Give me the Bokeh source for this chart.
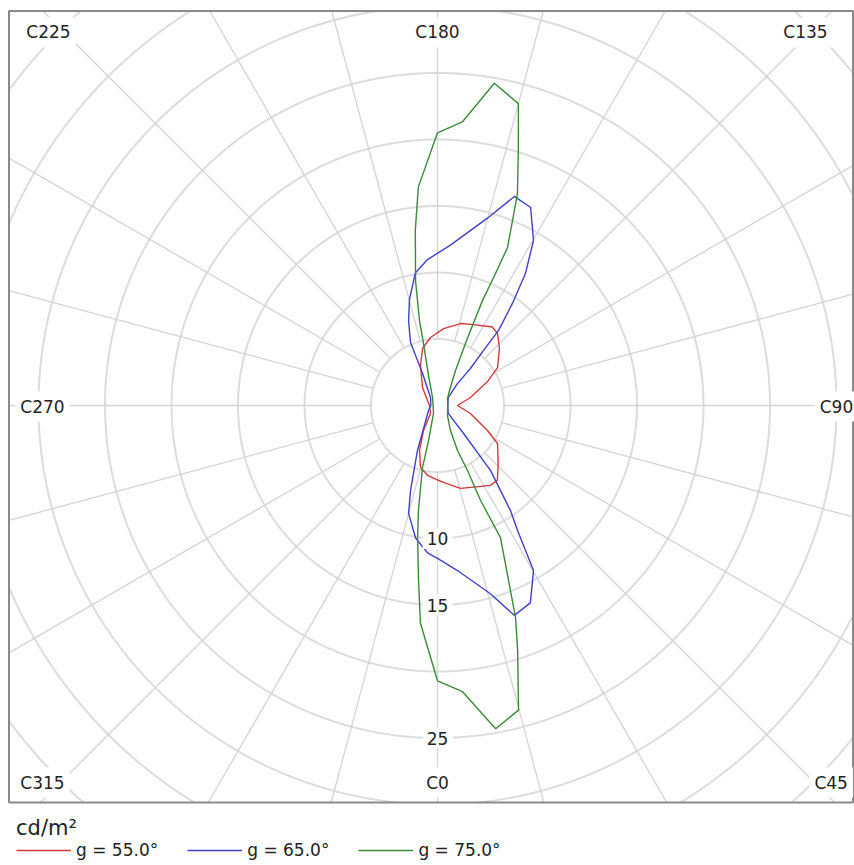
import numpy as np
from bokeh.plotting import figure
from bokeh.models import Range1d, Label, Legend, LegendItem
from bokeh.embed import file_html
from bokeh.resources import INLINE

# ---------------- data (C angle in degrees, luminance in cd/m2) ----------------
red_c = [0, 4.5, 15.5, 23.7, 33.5, 38.7, 46.4, 57.7, 63.4, 76.4, 90, 103.6, 115.6, 122.3,
         132.6, 140.2, 145.1, 156, 164.3, 175.5, 185.9, 194.7, 203, 219.8, 243.4, 270,
         318.8, 330.8, 338.2, 344.7, 351.9, 360]
red_l = [5.6, 5.8, 6.47, 6.7, 7.2, 7.2, 6.3, 5.34, 4.2, 2.55, 1.5, 2.55, 4.17, 5.34,
         6.33, 7.05, 7.2, 6.66, 6.4, 5.8, 5.14, 4.43, 3.27, 1.76, 0.84, 0.6,
         0.8, 2.15, 3.64, 4.83, 5.3, 5.6]

blue_c = [0, 6.9, 15.7, 20.1, 25.2, 30.2, 32.6, 34.8, 39.2, 42.9, 54, 90, 126, 137.7,
          138.3, 140.1, 140.9, 143.7, 146.3, 149.8, 154.8, 159.8, 165, 175.4, 183.9,
          189.5, 194.8, 198.8, 203.2, 205, 221, 270, 299, 336, 342.4, 345, 350.6, 356.1, 360]
blue_l = [11.5, 12.5, 14.7, 16.8, 16.4, 14.35, 11.2, 9.6, 6.3, 2.9, 1.0, 0.77, 1.0, 2.2,
          3.7, 5.4, 7.3, 9.5, 11.9, 14.35, 16.45, 16.75, 14.6, 12.1, 11.0,
          10.1, 8.25, 6.75, 5.15, 2.65, 0.8, 0.5, 0.77, 3.7, 6.7, 8.4, 10.1, 11.1, 11.5]

green_c = [0, 5, 10.2, 14.9, 18.1, 20.2, 25.5, 24.4, 24.8, 24, 27.5, 45, 90, 125,
           141.3, 152.8, 155.9, 156.8, 156.3, 156.1, 159.3, 162.4, 165, 170, 175, 180,
           185, 187.2, 190, 192, 192.7, 196.7, 212, 270, 333.4, 345.6, 346.4, 349.7,
           351.4, 353.8, 355.5, 360]
green_l = [20.7, 21.6, 24.7, 23.7, 19.4, 17.0, 11.0, 7.8, 5.4, 3.7, 2.1, 1.06, 0.77, 0.92,
           1.44, 2.96, 5.35, 8.6, 10.7, 13.0, 17.0, 20.1, 23.5, 24.6, 21.4, 20.5,
           16.5, 13.3, 9.5, 6.5, 4.8, 2.35, 0.7, 0.33, 0.67, 2.7, 4.8, 8.0,
           10.0, 13.2, 16.4, 20.7]

series_names = ["g = 55.0°", "g = 65.0°", "g = 75.0°"]
series_colors = ["#d23a3a", "#4040c8", "#3a8a3a"]

ring_radii = [5, 10, 15, 20, 25, 30, 35, 40, 45]
ring_labels = [10, 15, 25]
spoke_angles = list(range(0, 360, 15))
c_labels = ["C0", "C45", "C90", "C135", "C180", "C225", "C270", "C315"]
unit = "cd/m²"

# ---------------- geometry / layout ----------------
W, H = 854, 865
S = 13.3                 # pixels per cd/m2
CX, CY = 437, 405        # pole position inside the canvas (px from left / top)
x_lo, x_hi = -CX / S, (W - CX) / S
y_lo, y_hi = -(H - CY) / S, CY / S
# diagram box edges (px from canvas left/top converted to data)
box_l, box_r, box_t, box_b = (8.5 - CX) / S, (852.5 - CX) / S, (CY - 10.5) / S, (CY - 802) / S


def to_xy(c, l):
    a = np.radians(np.asarray(c, dtype=float))
    r = np.asarray(l, dtype=float)
    return r * np.sin(a), -r * np.cos(a)


def inside(x, y):
    return (x >= box_l) & (x <= box_r) & (y >= box_b) & (y <= box_t)


p = figure(width=W, height=H, output_backend="svg", toolbar_location=None,
           x_range=Range1d(x_lo, x_hi), y_range=Range1d(y_lo, y_hi),
           x_axis_location=None, y_axis_location=None,
           min_border_left=0, min_border_right=0, min_border_top=0, min_border_bottom=0)
p.grid.visible = False
p.outline_line_color = None
p.background_fill_color = "white"
p.border_fill_color = "white"

# grid: rings clipped to the box
th = np.linspace(0, 2 * np.pi, 1441)
for r in ring_radii:
    gx, gy = r * np.cos(th), r * np.sin(th)
    m = ~inside(gx, gy)
    gx[m] = np.nan
    gy[m] = np.nan
    p.line(gx, gy, line_color="#dcdcdc", line_width=2)

# grid: spokes from the inner ring to the box edge
sx, sy = [], []
for a in spoke_angles:
    dx, dy = to_xy([a], [1.0])
    dx, dy = dx[0], dy[0]
    ts = []
    if dx > 1e-9:
        ts.append(box_r / dx)
    if dx < -1e-9:
        ts.append(box_l / dx)
    if dy > 1e-9:
        ts.append(box_t / dy)
    if dy < -1e-9:
        ts.append(box_b / dy)
    t = min(ts)
    sx.append([ring_radii[0] * dx, t * dx])
    sy.append([ring_radii[0] * dy, t * dy])
p.multi_line(xs=sx, ys=sy, line_color="#d4d4d4", line_width=1.3)

# box
p.quad(left=[box_l], right=[box_r], bottom=[box_b], top=[box_t],
       fill_color=None, line_color="#8a8a8a", line_width=2)

renderers = []
for (cc, ll), col in zip([(red_c, red_l), (blue_c, blue_l), (green_c, green_l)], series_colors):
    x, y = to_xy(cc, ll)
    r = p.line(x, y, line_color=col, line_width=1.4)
    renderers.append(r)

FONT = "DejaVu Sans"

# ring labels on C0 axis
for v in ring_labels:
    lx, ly = to_xy([0], [v])
    p.add_layout(Label(x=lx[0], y=ly[0], text=str(v), text_align="center",
                       text_baseline="middle", text_font=FONT, text_font_size="17px",
                       text_color="#222222", background_fill_color="white", padding=4))

# C labels near the box edges
c_pos = {"C0": (0, -28.35), "C45": (29.6, -28.35), "C90": (30.0, -0.08),
         "C135": (27.67, 28.05), "C180": (0, 28.05), "C225": (-29.25, 28.05),
         "C270": (-29.7, -0.08), "C315": (-29.7, -28.35)}
for t in c_labels:
    x, y = c_pos[t]
    p.add_layout(Label(x=x, y=y, text=t, text_align="center", text_baseline="middle",
                       text_font=FONT, text_font_size="17px", text_color="#222222",
                       background_fill_color="white", padding=5))

legend = Legend(items=[LegendItem(label=n, renderers=[r]) for n, r in zip(series_names, renderers)],
                orientation="horizontal", location=(16, 5), title=unit,
                title_text_font=FONT, title_text_font_size="21px", title_text_font_style="normal",
                title_text_color="#222222", title_standoff=0,
                label_text_font=FONT, label_text_font_size="17px", label_text_color="#222222",
                glyph_width=55, glyph_height=18, label_height=18, label_standoff=5, spacing=29,
                padding=8, margin=0, border_line_color=None, background_fill_alpha=0)
p.add_layout(legend)

open("out.html", "w").write(file_html(p, INLINE))
